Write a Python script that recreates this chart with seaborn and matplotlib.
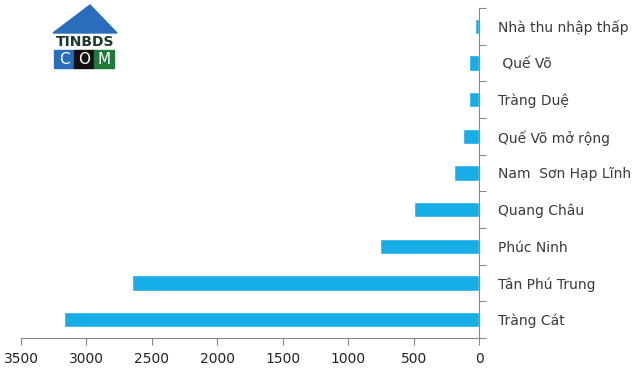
import matplotlib
matplotlib.use("Agg")
import matplotlib.pyplot as plt
import matplotlib.patches as mpatches
import seaborn as sns
import pandas as pd
import numpy as np

categories = ["Nhà thu nhập thấp", " Quế Võ", "Tràng Duệ", "Quế Võ mở rộng",
              "Nam  Sơn Hạp Lĩnh", "Quang Châu", "Phúc Ninh", "Tân Phú Trung", "Tràng Cát"]
values = [30, 80, 80, 120, 190, 500, 760, 2650, 3170]
x_ticks = [0, 500, 1000, 1500, 2000, 2500, 3000, 3500]

sns.set_theme(style="white")
plt.rcParams['font.family'] = ['DejaVu Sans']

df = pd.DataFrame({"cat": categories, "val": values})

fig = plt.figure(figsize=(6.4, 3.71), dpi=100)
ax = fig.add_axes([21/640, 1-338/371, (479-21)/640, (338-8)/371])

sns.barplot(data=df, y="cat", x="val", orient="h", color="#17aee8",
            saturation=1, width=0.42, ax=ax, order=categories)

ax.set_xlim(3500, 0)
ax.set_ylim(len(categories)-0.5, -0.5)
ax.set_xticks(x_ticks)
ax.set_xticklabels([str(t) for t in x_ticks], fontsize=10, color="#222222")
ax.set_xlabel("")
ax.set_ylabel("")

ax.yaxis.tick_right()
ax.yaxis.set_label_position("right")
ax.set_yticks(range(len(categories)))
ax.set_yticklabels(categories, fontsize=10, color="#3a3a3a", ha="left")
ax.tick_params(axis="y", which="major", length=0, pad=14)
ax.set_yticks(np.arange(-0.5, len(categories), 1), minor=True)
ax.tick_params(axis="y", which="minor", length=5, color="#888888", width=0.8, right=True, left=False)
ax.tick_params(axis="x", which="major", length=5, color="#888888", width=0.8, bottom=True, pad=5)

for s in ["top", "left"]:
    ax.spines[s].set_visible(False)
for s in ["bottom", "right"]:
    ax.spines[s].set_visible(True)
    ax.spines[s].set_color("#888888")
    ax.spines[s].set_linewidth(0.8)

# logo
W, H = 640, 371
def fx(x): return x / W
def fy(y): return 1 - y / H
roof = mpatches.Polygon([(fx(53), fy(33)), (fx(90), fy(5)), (fx(117), fy(33))],
                        closed=True, transform=fig.transFigure, color="#2a6ebb")
fig.add_artist(roof)
fig.text(fx(85), fy(42), "TINBDS", ha="center", va="center", fontsize=10,
         fontweight="bold", color="#1d3b2a")
cols = ["#2a6ebb", "#111111", "#1f7a3a"]
for i, c in enumerate(cols):
    r = mpatches.Rectangle((fx(54 + i*20), fy(68)), fx(20), 18/H,
                           transform=fig.transFigure, color=c)
    fig.add_artist(r)
for i, ch in enumerate("COM"):
    fig.text(fx(64 + i*20), fy(59), ch, ha="center", va="center", fontsize=11,
             color="white")

fig.savefig("out.png", dpi=100)
